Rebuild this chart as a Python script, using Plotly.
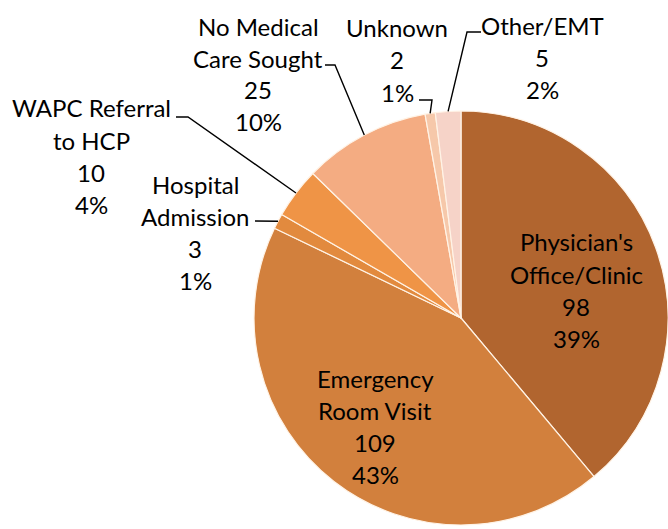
import math
import plotly.graph_objects as go

# Data
categories = ["Physician's Office/Clinic", "Emergency Room Visit", "Hospital Admission",
              "WAPC Referral to HCP", "No Medical Care Sought", "Unknown", "Other/EMT"]
label_lines = [["Physician's", "Office/Clinic"], ["Emergency", "Room Visit"], ["Hospital", "Admission"],
               ["WAPC Referral", "to HCP"], ["No Medical", "Care Sought"], ["Unknown"], ["Other/EMT"]]
values = [98, 109, 3, 10, 25, 2, 5]
percents = ["39%", "43%", "1%", "4%", "10%", "1%", "2%"]
colors = ["#B1652F", "#D2803D", "#E28A3E", "#EF9446", "#F4AC82", "#F6C8AA", "#F6D3C8"]

W, H = 668, 529
# pie placement (pixels)
PX0, PX1, PY_TOP, PY_BOT = 254, 668, 110, 526
cx = (PX0 + PX1) / 2
cy = (PY_TOP + PY_BOT) / 2
R = min(PX1 - PX0, PY_BOT - PY_TOP) / 2

# label text positions (pixels): center x, first-line y, line spacing
label_pos = [(576, 242), (375, 378), (195, 184), (91, 108), (258, 26), (397, 28), (542, 25)]
SP = 32
# leader elbow points (pixels) for outside labels
leaders = {2: [(255, 221)], 3: [(176, 117), (188, 117)], 4: [(325, 65), (335, 65)],
           5: [(419, 100), (432, 100)], 6: [(481, 32), (467, 32)]}


def px(x):
    return x / W


def py(y):
    return 1 - y / H


fig = go.Figure(go.Pie(
    labels=categories, values=values, sort=False, direction="clockwise", rotation=0,
    marker=dict(colors=colors, line=dict(color="#FFF3E6", width=1.2)),
    textinfo="none", hoverinfo="label+value+percent", showlegend=False,
    domain=dict(x=[px(PX0), min(1, px(PX1))], y=[py(PY_BOT), py(PY_TOP)]),
))

annotations = []
for i, (lines, v, p) in enumerate(zip(label_lines, values, percents)):
    x0, y0 = label_pos[i]
    for k, t in enumerate(lines + [str(v), p]):
        annotations.append(dict(x=px(x0), y=py(y0 + k * SP), xref="paper", yref="paper",
                                text=t, showarrow=False, xanchor="center", yanchor="middle",
                                font=dict(family="Lato, Carlito, sans-serif", size=24, color="#000000")))

shapes = []
total = sum(values)
cum = 0
for i, v in enumerate(values):
    mid = (cum + v / 2) / total * 2 * math.pi
    cum += v
    if i in leaders:
        ex = cx + R * math.sin(mid)
        ey = cy - R * math.cos(mid)
        pts = leaders[i] + [(ex, ey)]
        path = "M " + " L ".join(f"{px(a):.5f},{py(b):.5f}" for a, b in pts)
        shapes.append(dict(type="path", path=path, xref="paper", yref="paper",
                           line=dict(color="#000000", width=1.4)))

fig.update_layout(width=W, height=H, margin=dict(l=0, r=0, t=0, b=0),
                  paper_bgcolor="white", plot_bgcolor="white",
                  annotations=annotations, shapes=shapes)
fig.write_html("out.html", config={"displayModeBar": False},
               post_script="document.body.style.margin='0';document.body.style.overflow='hidden';")
